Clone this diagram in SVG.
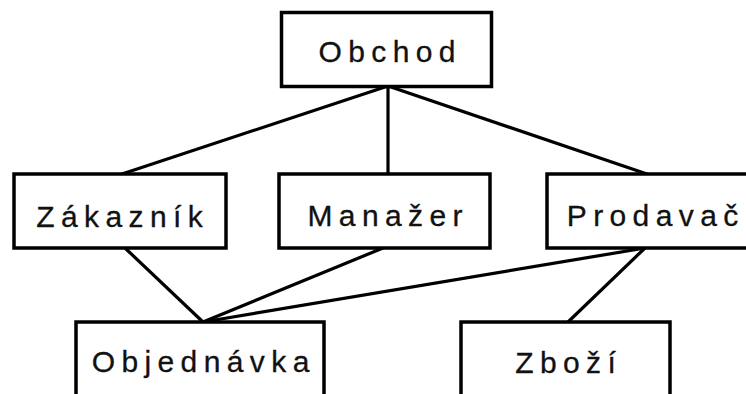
<svg xmlns="http://www.w3.org/2000/svg" width="746" height="394" viewBox="0 0 746 394">
  <style>
    .box { fill: #ffffff; stroke: #000000; stroke-width: 3.5; }
    .edge { stroke: #000000; stroke-width: 3.2; fill: none; stroke-linecap: round; }
    .label { font-family: "Liberation Sans", Arial, sans-serif; font-size: 30px; letter-spacing: 6.4px; fill: #111111; stroke: #111111; stroke-width: 0.3; text-anchor: middle; }
  </style>
  <rect width="746" height="394" fill="#ffffff"/>

  <g id="connectors">
    <line class="edge" x1="388" y1="86" x2="122" y2="174"/>
    <line class="edge" x1="388" y1="86" x2="388" y2="174"/>
    <line class="edge" x1="388" y1="86" x2="647" y2="174"/>
    <line class="edge" x1="125" y1="248" x2="203" y2="322"/>
    <line class="edge" x1="383" y1="248" x2="203" y2="322"/>
    <line class="edge" x1="645" y1="248" x2="203" y2="322"/>
    <line class="edge" x1="645" y1="248" x2="568" y2="322"/>
  </g>

  <g id="obchod">
    <rect class="box" x="281.5" y="12.5" width="210" height="74"/>
    <text class="label" x="390.2" y="62">Obchod</text>
  </g>
  <g id="zakaznik">
    <rect class="box" x="14" y="174" width="212" height="74"/>
    <text class="label" x="122.7" y="227">Zákazník</text>
  </g>
  <g id="manazer">
    <rect class="box" x="279" y="174" width="211" height="74"/>
    <text class="label" x="388.2" y="226">Manažer</text>
  </g>
  <g id="prodavac">
    <rect class="box" x="547" y="174" width="212" height="74"/>
    <text class="label" x="655.7" y="226">Prodavač</text>
  </g>
  <g id="objednavka">
    <rect class="box" x="76" y="322" width="248" height="76"/>
    <text class="label" x="203.7" y="372">Objednávka</text>
  </g>
  <g id="zbozi">
    <rect class="box" x="461" y="322" width="209" height="76"/>
    <text class="label" x="568.7" y="373">Zboží</text>
  </g>
</svg>
